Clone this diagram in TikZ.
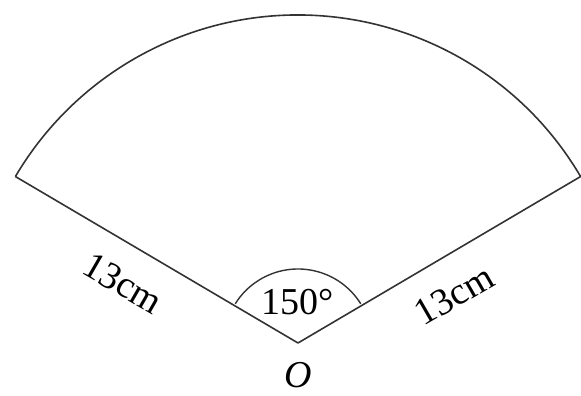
\documentclass[tikz,border=0pt]{standalone}
\usepackage{fontspec}
\setmainfont{Liberation Serif}
\usetikzlibrary{calc}
\begin{document}
\begin{tikzpicture}[x=1pt,y=1pt,
  edge/.style={line width=1.6pt,draw=black!80},
  lbl/.style={font=\fontsize{38}{40}\selectfont,inner sep=0pt}]
\useasboundingbox (0,0) rectangle (581,396);
\coordinate (O) at (298,53);
\coordinate (L) at ($(O)+(149.5:328)$);
\coordinate (R) at ($(O)+(30.5:328)$);
\draw[edge,line join=round] (L) -- (O) -- (R) arc[start angle=30.5,end angle=149.5,radius=328];
\draw[edge,line width=1.4pt] ($(O)+(32:74)$) arc[start angle=32,end angle=148,radius=74];
\node[lbl] (ang) at (298,94) {150°};
\node[lbl,font=\fontsize{38}{40}\selectfont\itshape] (o) at (298,21) {O};
\node[lbl,rotate=-30] (l1) at (123,113) {13cm};
\node[lbl,rotate=30] (l2) at (454,101) {13cm};
\end{tikzpicture}
\end{document}
